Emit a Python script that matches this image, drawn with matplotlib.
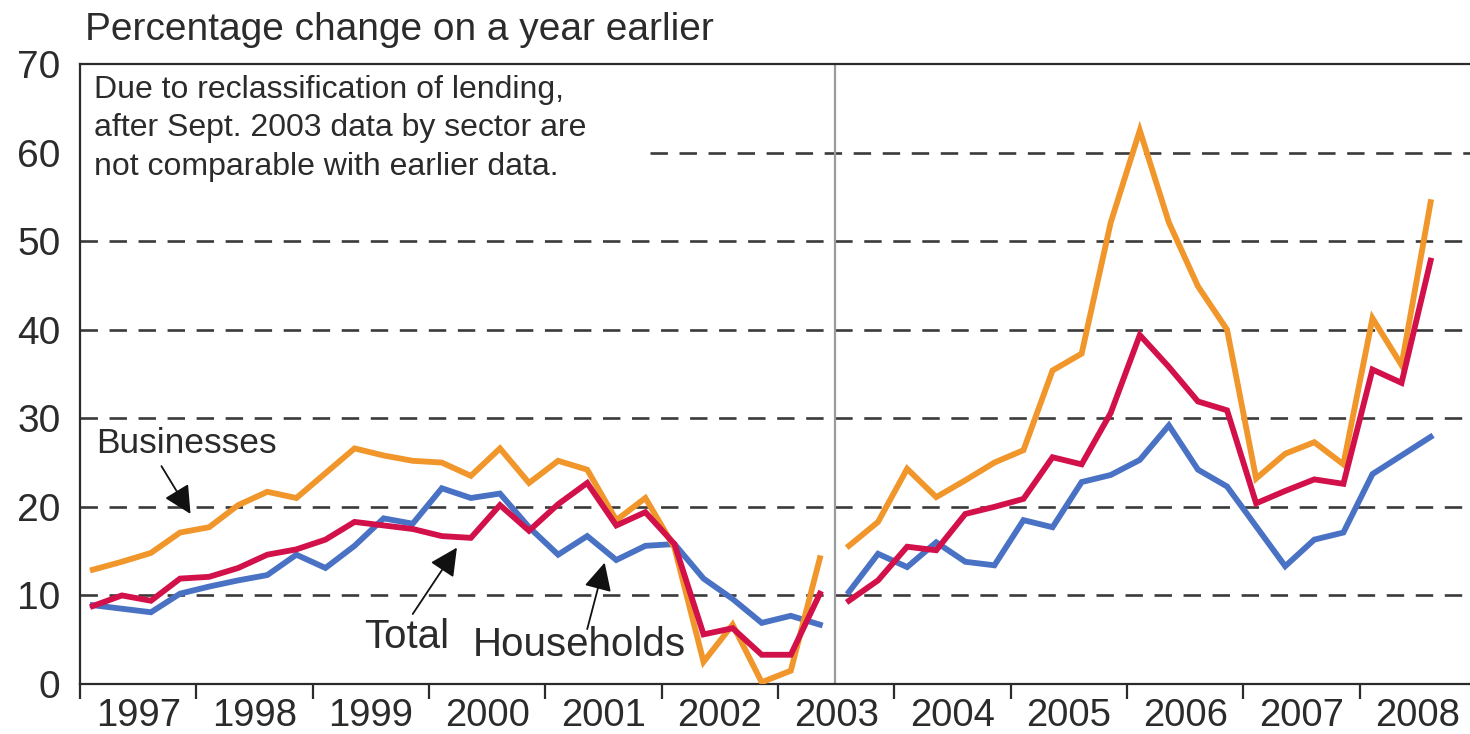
#!/usr/bin/env python3
from __future__ import annotations

import matplotlib
matplotlib.use("Agg")
import matplotlib.pyplot as plt
import numpy as np

# Quarterly lending growth, % change on a year earlier.
# Left block: 1997 Q1 - 2003 Q2, right block: 2003 Q3 - 2008 Q3 (after reclassification).
LEFT_START = 1997.11
RIGHT_START = 2003.61
QUARTER = 0.25

left_businesses = [12.9, 13.8, 14.8, 17.1, 17.7, 20.2, 21.7, 21.0, 23.8, 26.6, 25.8, 25.2, 25.0,
                   23.5, 26.6, 22.7, 25.2, 24.2, 18.5, 21.0, 15.4, 2.5, 6.7, 0.2, 1.5, 14.2]
left_total = [8.8, 10.0, 9.4, 11.9, 12.1, 13.1, 14.6, 15.2, 16.3, 18.3, 17.9, 17.5, 16.7,
              16.5, 20.2, 17.3, 20.3, 22.7, 17.9, 19.4, 15.8, 5.6, 6.3, 3.3, 3.3, 10.2]
left_households = [8.9, 8.5, 8.1, 10.2, 11.0, 11.7, 12.3, 14.6, 13.1, 15.6, 18.7, 18.1, 22.1,
                   21.0, 21.5, 17.7, 14.6, 16.7, 14.0, 15.6, 15.8, 11.9, 9.6, 6.9, 7.7, 6.7]

right_businesses = [15.6, 18.3, 24.3, 21.1, 23.0, 25.0, 26.4, 35.4, 37.3, 52.1, 62.5, 52.1, 44.9,
                    40.0, 23.2, 26.0, 27.3, 24.8, 41.3, 36.0, 54.4]
right_total = [9.4, 11.7, 15.5, 15.1, 19.2, 20.0, 20.9, 25.6, 24.8, 30.6, 39.4, 35.8, 31.9,
               30.9, 20.4, 21.8, 23.1, 22.6, 35.5, 34.0, 47.8]
right_households = [10.4, 14.7, 13.2, 16.0, 13.8, 13.4, 18.5, 17.7, 22.8, 23.6, 25.3, 29.2, 24.2,
                    22.3, 17.8, 13.3, 16.3, 17.1, 23.7, 25.8, 27.9]

years = list(range(1997, 2009))
y_ticks = [0, 10, 20, 30, 40, 50, 60, 70]
grid_levels = [10, 20, 30, 40, 50, 60]
break_at = 2003.49

BUSINESS_COLOR = "#F0962A"
TOTAL_COLOR = "#D2104A"
HOUSEHOLD_COLOR = "#4A72C4"
INK = "#2b2b2b"

plt.rcParams["font.family"] = ["Liberation Sans", "DejaVu Sans"]


def quarter_positions(start: float, n: int) -> np.ndarray:
    return start + QUARTER * np.arange(n)


def draw_series(ax: plt.Axes) -> None:
    blocks = [
        (LEFT_START, left_households, left_businesses, left_total),
        (RIGHT_START, right_households, right_businesses, right_total),
    ]
    for start, hh, bus, tot in blocks:
        x = quarter_positions(start, len(hh))
        ax.plot(x, hh, color=HOUSEHOLD_COLOR, lw=4.2, solid_joinstyle="miter", zorder=3)
        ax.plot(x, bus, color=BUSINESS_COLOR, lw=4.2, solid_joinstyle="miter", zorder=3)
        ax.plot(x, tot, color=TOTAL_COLOR, lw=4.2, solid_joinstyle="miter", zorder=4)


def draw_labels(ax: plt.Axes) -> None:
    arrow = dict(arrowstyle="-|>,head_length=0.9,head_width=0.45", color="#111111", lw=1.3,
                 shrinkA=0, shrinkB=0, mutation_scale=19)
    ax.annotate("", xy=(1997.95, 19.2), xytext=(1997.70, 24.6), arrowprops=arrow, zorder=5)
    ax.annotate("", xy=(2000.24, 15.4), xytext=(1999.86, 7.9), arrowprops=arrow, zorder=5)
    ax.annotate("", xy=(2001.51, 13.7), xytext=(2001.36, 6.2), arrowprops=arrow, zorder=5)
    ax.text(1997.14, 27.2, "Businesses", fontsize=25.5, color=INK, va="center", ha="left")
    ax.text(1999.44, 5.3, "Total", fontsize=29, color=INK, va="center", ha="left")
    ax.text(2000.38, 4.4, "Households", fontsize=29, color=INK, va="center", ha="left")
    ax.text(1997.12, 68.8,
            "Due to reclassification of lending,\nafter Sept. 2003 data by sector are\n"
            "not comparable with earlier data.",
            fontsize=23, color=INK, va="top", ha="left", linespacing=1.38)


def main() -> None:
    fig = plt.figure(figsize=(14.7, 7.34), dpi=100)
    ax = fig.add_axes([80 / 1470, 50 / 734, 1396 / 1470, 620 / 734])
    ax.set_xlim(1997, 2009)
    ax.set_ylim(0, 70)

    for level in grid_levels:
        start = 2001.9 if level == 60 else 1997
        ax.hlines(level, start, 2009, colors="#3a3a3a", lw=1.9,
                  linestyles=[(0, (6.6, 4.4))], zorder=1)
    ax.axvline(break_at, color="#9a9a9a", lw=1.6, zorder=2)

    draw_series(ax)
    draw_labels(ax)

    for side in ("left", "bottom", "top"):
        ax.spines[side].set_color(INK)
        ax.spines[side].set_linewidth(1.6)
    ax.spines["right"].set_visible(False)

    ax.set_xticks(years + [2009])
    ax.set_xticklabels([])
    ax.set_xticks([y + 0.5 for y in years], minor=True)
    ax.set_xticklabels([str(y) for y in years], minor=True)
    ax.tick_params(axis="x", which="major", direction="out", length=11, width=1.6, color=INK)
    ax.tick_params(axis="x", which="minor", length=0, pad=10, labelsize=27.5, labelcolor=INK)
    ax.set_yticks(y_ticks)
    ax.tick_params(axis="y", length=0, pad=14, labelsize=28, labelcolor=INK)

    fig.text(85 / 1470, 1 - 30 / 734, "Percentage change on a year earlier", fontsize=28,
             color=INK, va="center", ha="left")

    fig.savefig("out.png", dpi=100)
    plt.close(fig)


if __name__ == "__main__":
    main()
